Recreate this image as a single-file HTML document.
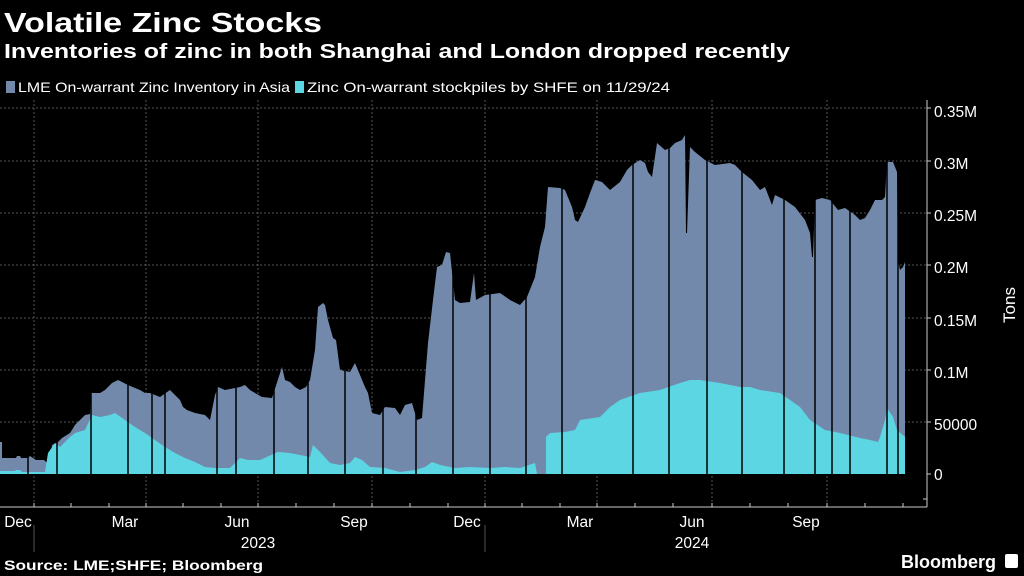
<!DOCTYPE html>
<html><head><meta charset="utf-8"><style>
html,body{margin:0;padding:0;background:#000;width:1024px;height:576px;overflow:hidden}
svg{display:block}
text{font-family:"Liberation Sans",sans-serif;fill:#fff}
</style></head><body>
<svg width="1024" height="576" viewBox="0 0 1024 576">
<text x="4" y="32" font-size="28" font-weight="bold" textLength="318" lengthAdjust="spacingAndGlyphs">Volatile Zinc Stocks</text>
<text x="4" y="58" font-size="20" font-weight="bold" textLength="786" lengthAdjust="spacingAndGlyphs">Inventories of zinc in both Shanghai and London dropped recently</text>
<rect x="6" y="81" width="9" height="12" fill="#7289ab"/>
<text x="18" y="92" font-size="14" fill="#ddd" textLength="272" lengthAdjust="spacingAndGlyphs">LME On-warrant Zinc Inventory in Asia</text>
<rect x="295" y="81" width="9" height="12" fill="#5dd6e3"/>
<text x="307" y="92" font-size="14" textLength="363" lengthAdjust="spacingAndGlyphs">Zinc On-warrant stockpiles by SHFE  on 11/29/24</text>
<g stroke="#555" stroke-dasharray="2,2" stroke-width="1">
<line x1="0" y1="108" x2="927" y2="108"/><line x1="0" y1="161" x2="927" y2="161"/><line x1="0" y1="213" x2="927" y2="213"/><line x1="0" y1="265" x2="927" y2="265"/><line x1="0" y1="318" x2="927" y2="318"/><line x1="0" y1="370" x2="927" y2="370"/><line x1="0" y1="422" x2="927" y2="422"/>
<line x1="34" y1="100" x2="34" y2="507"/><line x1="146" y1="100" x2="146" y2="507"/><line x1="258" y1="100" x2="258" y2="507"/><line x1="372" y1="100" x2="372" y2="507"/><line x1="485" y1="100" x2="485" y2="507"/><line x1="597" y1="100" x2="597" y2="507"/><line x1="712" y1="100" x2="712" y2="507"/><line x1="827" y1="100" x2="827" y2="507"/>
</g>
<polygon fill="#7289ab" points="0,474 0,442 2,442 2,458 16,458 17,456 20,456 21,458 28,458 30,456 36,460 44,460 46,462 50,462 52,445 58,442 60,440 62,438 70,433 72,430 75,425 80,420 85,415 90,414 91,393 100,393 105,390 108,387 112,383 118,380 122,382 128,385 135,388 140,390 145,393 150,393 155,395 160,397 170,390 175,395 180,400 183,407 187,410 195,413 205,415 210,420 215,395 218,387 225,390 240,387 245,385 250,390 255,393 262,397 272,398 282,367 285,380 290,382 295,387 300,390 306,387 310,380 315,350 318,307 323,303 325,305 328,320 333,338 336,340 340,370 350,372 355,363 365,387 368,393 372,413 380,415 385,407 395,408 400,415 405,405 412,403 417,420 422,418 428,343 433,300 437,267 442,265 446,252 450,253 455,300 460,303 470,302 474,273 476,300 485,295 500,293 510,300 520,305 527,297 535,277 540,247 545,227 548,187 560,188 565,190 572,207 575,220 578,222 585,207 590,193 595,180 602,182 610,190 620,182 627,170 632,165 640,160 645,163 648,172 652,177 657,143 665,150 670,148 675,143 682,140 685,135 686,233 687,233 690,147 695,152 705,160 715,165 730,163 735,165 742,172 752,180 760,190 765,187 772,205 775,195 785,200 795,207 805,220 810,233 812,257 813,257 815,200 822,198 830,200 838,210 845,208 855,215 860,220 865,218 870,210 875,200 882,200 885,197 887,162 893,162 897,172 898,260 900,270 903,267 905,262 905,474"/>
<polygon fill="#5dd6e3" points="0,474 0,471 15,471 16,470 20,470 22,472 45,472 48,453 55,443 60,447 70,437 75,433 85,430 92,415 100,417 110,415 115,413 125,420 135,427 145,433 155,440 165,447 175,453 185,458 195,462 205,467 215,468 230,468 240,458 248,460 260,460 278,452 290,453 300,455 310,457 313,445 320,452 330,463 340,465 350,463 355,457 362,460 370,467 385,468 400,472 415,470 425,467 432,462 440,465 455,468 470,467 490,468 505,467 520,468 535,463 537,474 546,474 546,437 550,433 565,432 575,430 580,420 600,417 610,407 620,400 640,393 660,390 680,383 690,380 700,380 720,383 740,387 750,387 760,390 780,393 800,407 810,420 825,430 840,433 860,438 870,440 878,442 880,437 885,420 887,408 893,417 897,430 905,437 905,474"/>
<g stroke="#000" stroke-width="1.5">
<line x1="28" y1="420" x2="28" y2="474"/><line x1="57" y1="420" x2="57" y2="474"/><line x1="91" y1="380" x2="91" y2="474"/><line x1="128" y1="370" x2="128" y2="474"/><line x1="152" y1="370" x2="152" y2="474"/><line x1="165" y1="370" x2="165" y2="474"/><line x1="217" y1="370" x2="217" y2="474"/><line x1="236" y1="370" x2="236" y2="474"/><line x1="274" y1="360" x2="274" y2="474"/><line x1="308" y1="360" x2="308" y2="474"/><line x1="345" y1="360" x2="345" y2="474"/><line x1="383" y1="360" x2="383" y2="474"/><line x1="416" y1="360" x2="416" y2="474"/><line x1="453" y1="250" x2="453" y2="474"/><line x1="490" y1="250" x2="490" y2="474"/><line x1="526" y1="250" x2="526" y2="474"/><line x1="562" y1="180" x2="562" y2="474"/><line x1="633" y1="150" x2="633" y2="474"/><line x1="669" y1="140" x2="669" y2="474"/><line x1="707" y1="140" x2="707" y2="474"/><line x1="742" y1="150" x2="742" y2="474"/><line x1="784" y1="180" x2="784" y2="474"/><line x1="815" y1="190" x2="815" y2="474"/><line x1="832" y1="190" x2="832" y2="474"/><line x1="850" y1="190" x2="850" y2="474"/><line x1="887" y1="150" x2="887" y2="474"/><line x1="898" y1="150" x2="898" y2="474"/>
</g>
<g stroke="#ccc" stroke-width="1">
<line x1="927" y1="100" x2="927" y2="507"/><line x1="0" y1="507" x2="927" y2="507"/>
<line x1="927" y1="108" x2="931" y2="108"/><line x1="927" y1="161" x2="931" y2="161"/><line x1="927" y1="213" x2="931" y2="213"/><line x1="927" y1="265" x2="931" y2="265"/><line x1="927" y1="318" x2="931" y2="318"/><line x1="927" y1="370" x2="931" y2="370"/><line x1="927" y1="422" x2="931" y2="422"/><line x1="927" y1="474" x2="931" y2="474"/><line x1="923" y1="499" x2="927" y2="499"/>
<line x1="34" y1="503" x2="34" y2="507"/><line x1="71" y1="503" x2="71" y2="507"/><line x1="109" y1="503" x2="109" y2="507"/><line x1="146" y1="503" x2="146" y2="507"/><line x1="183" y1="503" x2="183" y2="507"/><line x1="221" y1="503" x2="221" y2="507"/><line x1="258" y1="503" x2="258" y2="507"/><line x1="296" y1="503" x2="296" y2="507"/><line x1="334" y1="503" x2="334" y2="507"/><line x1="372" y1="503" x2="372" y2="507"/><line x1="410" y1="503" x2="410" y2="507"/><line x1="448" y1="503" x2="448" y2="507"/><line x1="485" y1="503" x2="485" y2="507"/><line x1="522" y1="503" x2="522" y2="507"/><line x1="560" y1="503" x2="560" y2="507"/><line x1="597" y1="503" x2="597" y2="507"/><line x1="635" y1="503" x2="635" y2="507"/><line x1="673" y1="503" x2="673" y2="507"/><line x1="712" y1="503" x2="712" y2="507"/><line x1="750" y1="503" x2="750" y2="507"/><line x1="788" y1="503" x2="788" y2="507"/><line x1="827" y1="503" x2="827" y2="507"/><line x1="865" y1="503" x2="865" y2="507"/><line x1="903" y1="503" x2="903" y2="507"/>
</g>
<line x1="34" y1="525" x2="34" y2="552" stroke="#555"/><line x1="485" y1="525" x2="485" y2="552" stroke="#555"/>
<g font-size="15.5">
<text x="934" y="117">0.35M</text><text x="934" y="169">0.3M</text><text x="934" y="221">0.25M</text><text x="934" y="273">0.2M</text><text x="934" y="326">0.15M</text><text x="934" y="378">0.1M</text><text x="934" y="430">50000</text><text x="934" y="480">0</text>
</g>
<text x="1015" y="305" font-size="17" transform="rotate(-90 1015 305)" text-anchor="middle">Tons</text>
<g font-size="15.5" text-anchor="middle">
<text x="18" y="527">Dec</text><text x="125" y="527">Mar</text><text x="237" y="527">Jun</text><text x="354" y="527">Sep</text><text x="467" y="527">Dec</text><text x="580" y="527">Mar</text><text x="692" y="527">Jun</text><text x="806" y="527">Sep</text>
<text x="258" y="548">2023</text><text x="692" y="548">2024</text>
</g>
<text x="4" y="570" font-size="14" font-weight="bold" textLength="259" lengthAdjust="spacingAndGlyphs">Source: LME;SHFE; Bloomberg</text>
<text x="996" y="568" font-size="18" font-weight="bold" text-anchor="end">Bloomberg</text>
<rect x="1005" y="554" width="13" height="14" rx="2" fill="#fff"/>
</svg>
</body></html>
